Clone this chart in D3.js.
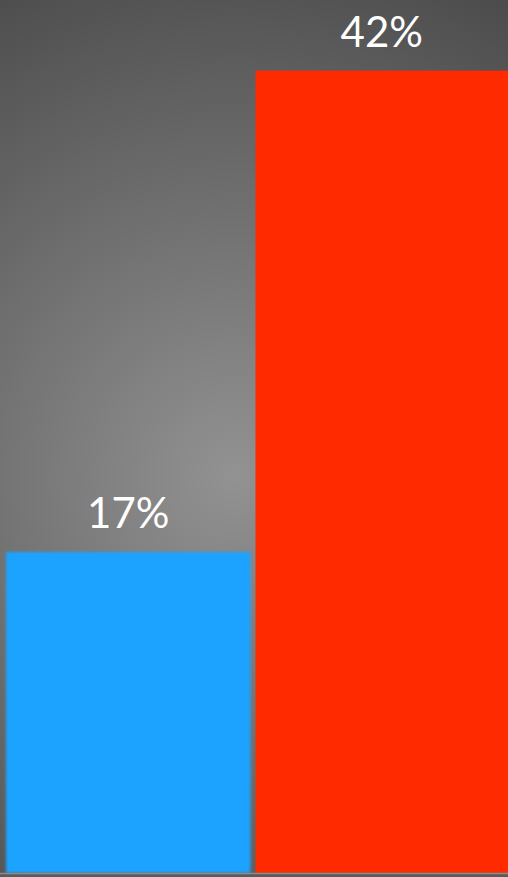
<!DOCTYPE html>
<html><head><meta charset="utf-8">
<script src="https://cdn.jsdelivr.net/npm/d3@7/dist/d3.min.js"></script>
<style>html,body{margin:0;padding:0;background:#5a5a5a;overflow:hidden}</style>
</head><body>
<script>
const categories = ["A", "B"];
const values = [16.8, 42];
const labels = ["17%", "42%"];
const colors = ["#1fa3ff", "#ff2a00"];

const W = 508, H = 877, baseY = 873;
const svg = d3.select("body").append("svg").attr("width", W).attr("height", H);
const defs = svg.append("defs");
const grad = defs.append("radialGradient").attr("id", "bg")
  .attr("gradientUnits", "userSpaceOnUse")
  .attr("cx", 235).attr("cy", 475).attr("r", 560);
grad.append("stop").attr("offset", 0).attr("stop-color", "#929292");
grad.append("stop").attr("offset", 1).attr("stop-color", "#4a4a4a");
const blur = defs.append("filter").attr("id", "soft").attr("x", "-5%").attr("y", "-5%").attr("width", "110%").attr("height", "110%");
blur.append("feGaussianBlur").attr("stdDeviation", 1.4);

svg.append("rect").attr("width", W).attr("height", H).attr("fill", "url(#bg)");
svg.append("rect").attr("y", baseY).attr("width", W).attr("height", H - baseY).attr("fill", "#5a5a5a");

const x = d3.scaleBand().domain(categories).range([6, 500]).paddingInner(0.02).paddingOuter(0);
const y = d3.scaleLinear().domain([0, 45.7]).range([baseY, 0]);

const data = categories.map((c, i) => ({c, v: values[i], l: labels[i], col: colors[i], i}));
const barW = d => d.i === data.length - 1 ? W - x(d.c) : x.bandwidth();

svg.selectAll("rect.bar").data(data).enter().append("rect")
  .attr("class", "bar")
  .attr("x", d => x(d.c))
  .attr("y", d => y(d.v))
  .attr("width", barW)
  .attr("height", d => y(0) - y(d.v))
  .attr("fill", d => d.col)
  .attr("filter", d => d.i === 0 ? "url(#soft)" : null);

svg.append("line").attr("x1", 0).attr("x2", W).attr("y1", baseY + 0.5).attr("y2", baseY + 0.5)
  .attr("stroke", "#8c8c8c").attr("stroke-width", 1.5);

svg.selectAll("text.lbl").data(data).enter().append("text")
  .attr("class", "lbl")
  .attr("x", d => x(d.c) + barW(d) / 2)
  .attr("y", d => y(d.v) - 24)
  .attr("text-anchor", "middle")
  .attr("fill", "#ffffff")
  .style("font-family", "Lato, 'Open Sans', sans-serif")
  .style("font-size", "42px")
  .text(d => d.l);
</script>
</body></html>
